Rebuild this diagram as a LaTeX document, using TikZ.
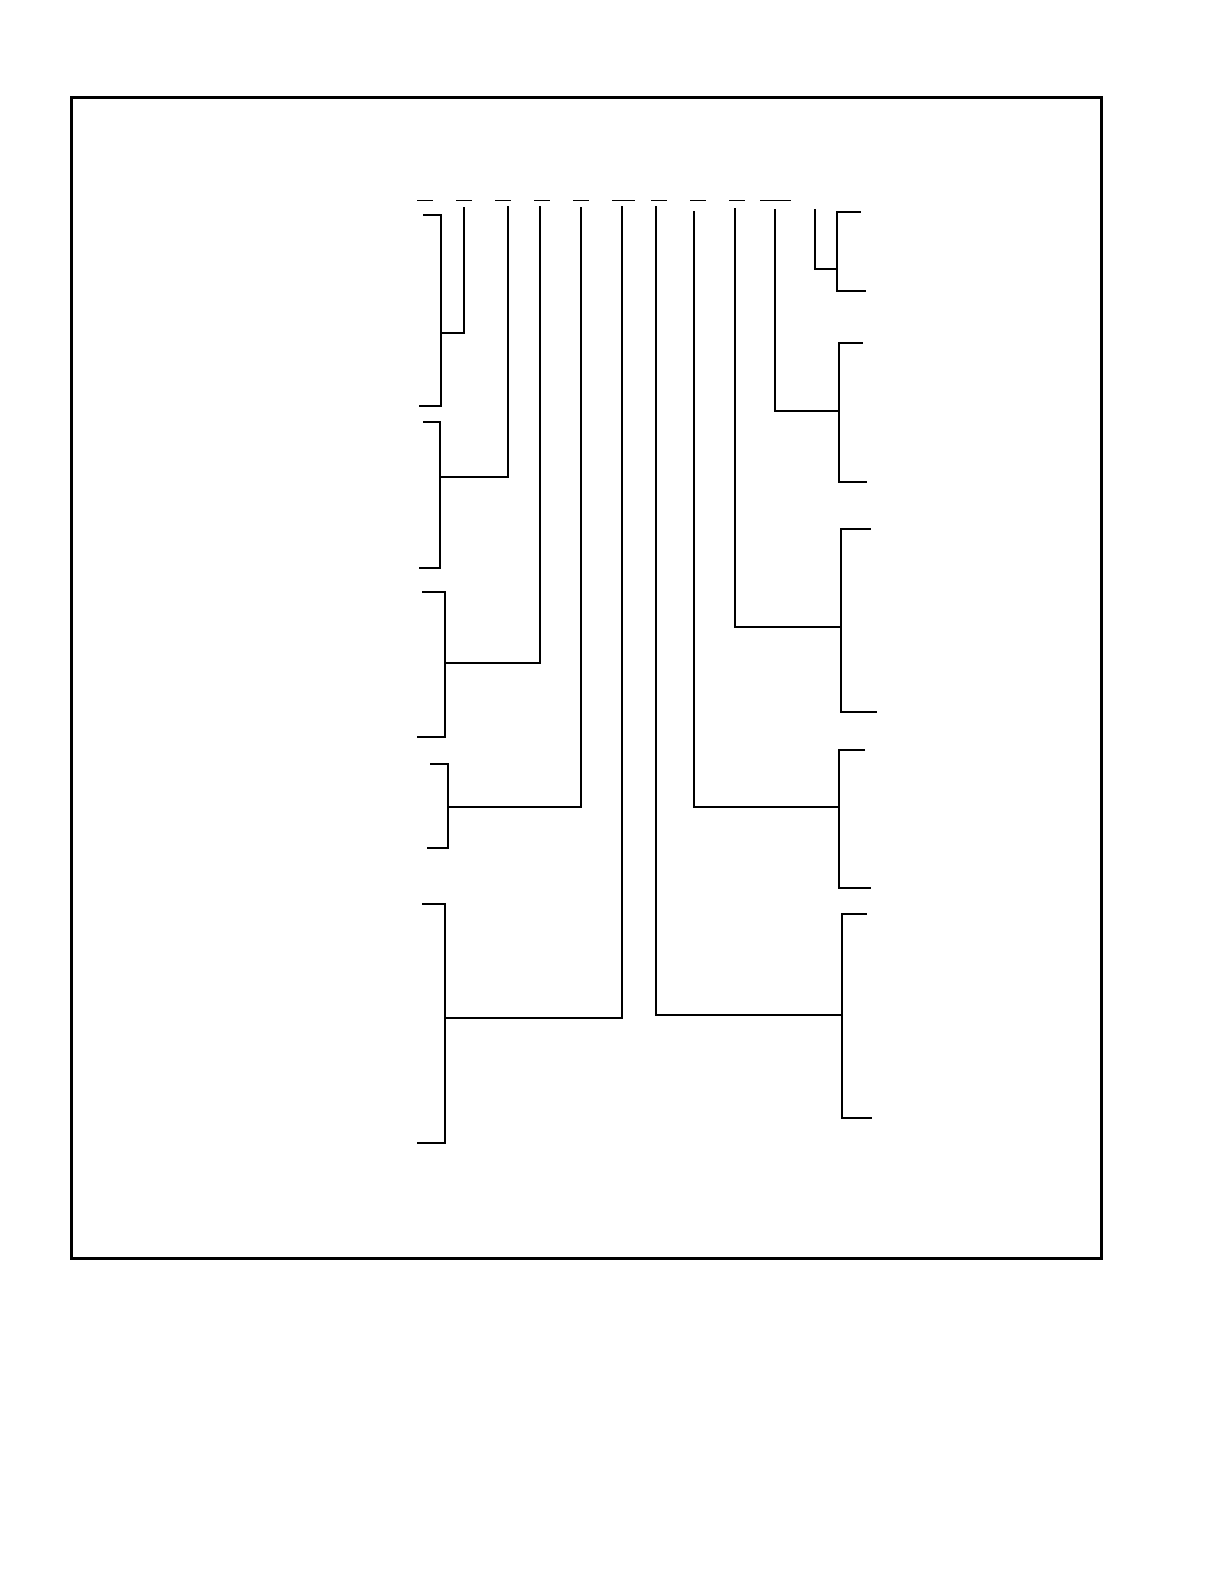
\documentclass[tikz,border=0pt]{standalone}
\usepackage{tikz}

\begin{document}
\begin{tikzpicture}[x=1pt, y=-1pt,
    link/.style={line width=2pt},
    blank/.style={line width=1pt},
    frame/.style={line width=2.7pt}]
    \useasboundingbox (0,0) rectangle (1224,1584);
    \draw[frame] (71.7,97.3) rectangle (1101.7,1258.3);

    % empty label slots
    \foreach \xa/\xb in {417/433, 456/472, 495/511, 534/550, 573/589, 612/635, 651/667, 690/706, 729/745, 760/791}
        \draw[blank] (\xa,200) -- (\xb,200);

    % left side clusters
    \foreach \n/\xt/\yt/\xv/\xb/\yb/\yj/\xs/\ys in {
        1/423/215/441/419/406/333/464/207,
        2/423/421.5/440/419/567.7/476.7/508.3/206,
        3/422/591.7/445/417.3/736.7/663.3/540/206,
        4/430/764.3/448.3/426.7/847.7/806.7/581/207,
        5/422/904.3/445/417.3/1142.7/1017.7/621.7/206} {
        \coordinate (lt\n) at (\xt,\yt);
        \coordinate (lb\n) at (\xb,\yb);
        \coordinate (lj\n) at (\xv,\yj);
        \coordinate (ls\n) at (\xs,\ys);
        \draw[link] (lt\n) -| (lj\n) |- (lb\n);
        \draw[link] (lj\n) -| (ls\n);
    }

    % right side clusters
    \foreach \n/\xt/\yt/\xv/\xb/\yb/\yj/\xs/\ys in {
        1/860.7/211.7/836.7/865.7/291/269/814.7/209.3,
        2/862.7/342.7/838.7/867.3/482.3/410.7/775/209,
        3/870.7/529/840.7/876.7/711.7/627.3/735/208,
        4/865/750/839.3/870.7/887.7/806.7/694/210.7,
        5/866.7/913.7/841.7/871.7/1118.3/1015/656/206} {
        \coordinate (rt\n) at (\xt,\yt);
        \coordinate (rb\n) at (\xb,\yb);
        \coordinate (rj\n) at (\xv,\yj);
        \coordinate (rs\n) at (\xs,\ys);
        \draw[link] (rt\n) -| (rj\n) |- (rb\n);
        \draw[link] (rj\n) -| (rs\n);
    }
\end{tikzpicture}
\end{document}
